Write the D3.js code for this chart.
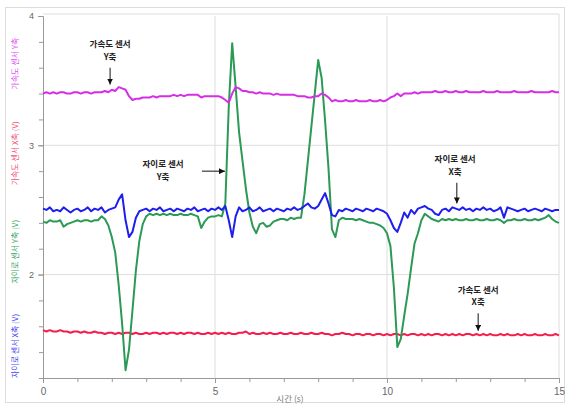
<!DOCTYPE html>
<html>
<head>
<meta charset="utf-8">
<script src="https://cdn.jsdelivr.net/npm/d3@7"></script>
<style>
  body { margin: 0; background: #fff; }
  svg { display: block; }
</style>
</head>
<body>
<svg id="chart"></svg>
<script>
var width = 568;
var height = 405;

// time axis: one sample every 0.1 s, 0 .. 15 s
var sampleCount = 151;

// accel sensor Y axis (magenta)
var accelY = [
  3.40, 3.41, 3.40, 3.41, 3.40, 3.41, 3.41, 3.40, 3.40, 3.41,
  3.41, 3.40, 3.41, 3.41, 3.40, 3.41, 3.41, 3.41, 3.42, 3.41,
  3.43, 3.42, 3.45, 3.44, 3.43, 3.38, 3.35, 3.36, 3.36, 3.37,
  3.37, 3.37, 3.38, 3.37, 3.38, 3.38, 3.38, 3.38, 3.39, 3.38,
  3.39, 3.38, 3.39, 3.39, 3.39, 3.39, 3.37, 3.38, 3.38, 3.38,
  3.38, 3.38, 3.37, 3.35, 3.33, 3.40, 3.45, 3.44, 3.42, 3.42,
  3.41, 3.41, 3.40, 3.41, 3.40, 3.40, 3.40, 3.39, 3.40, 3.39,
  3.39, 3.39, 3.39, 3.39, 3.38, 3.38, 3.38, 3.37, 3.37, 3.38,
  3.38, 3.40, 3.39, 3.37, 3.34, 3.35, 3.34, 3.34, 3.35, 3.34,
  3.34, 3.35, 3.34, 3.34, 3.34, 3.35, 3.34, 3.34, 3.35, 3.34,
  3.35, 3.37, 3.38, 3.40, 3.38, 3.40, 3.40, 3.40, 3.41, 3.40,
  3.41, 3.41, 3.41, 3.41, 3.42, 3.41, 3.41, 3.42, 3.41, 3.41,
  3.42, 3.41, 3.41, 3.42, 3.41, 3.41, 3.41, 3.41, 3.42, 3.41,
  3.41, 3.41, 3.42, 3.41, 3.41, 3.41, 3.41, 3.42, 3.41, 3.41,
  3.41, 3.41, 3.42, 3.41, 3.41, 3.41, 3.41, 3.41, 3.42, 3.41,
  3.41
];

// gyro sensor X axis (blue)
var gyroX = [
  2.51, 2.50, 2.52, 2.49, 2.50, 2.49, 2.52, 2.50, 2.48, 2.50,
  2.51, 2.49, 2.50, 2.52, 2.49, 2.51, 2.50, 2.52, 2.48, 2.50,
  2.51, 2.52, 2.58, 2.62, 2.42, 2.29, 2.33, 2.44, 2.49, 2.50,
  2.51, 2.49, 2.51, 2.50, 2.52, 2.49, 2.50, 2.51, 2.49, 2.51,
  2.50, 2.49, 2.51, 2.50, 2.52, 2.49, 2.50, 2.51, 2.49, 2.51,
  2.50, 2.52, 2.50, 2.53, 2.42, 2.29, 2.45, 2.52, 2.49, 2.50,
  2.52, 2.49, 2.50, 2.52, 2.49, 2.50, 2.51, 2.49, 2.51, 2.50,
  2.49, 2.51, 2.50, 2.52, 2.50, 2.51, 2.53, 2.55, 2.52, 2.51,
  2.53, 2.58, 2.63, 2.55, 2.46, 2.45, 2.50, 2.49, 2.51, 2.50,
  2.49, 2.51, 2.50, 2.49, 2.51, 2.50, 2.49, 2.51, 2.50, 2.49,
  2.47, 2.42, 2.36, 2.33, 2.40, 2.48, 2.44, 2.50, 2.47, 2.51,
  2.52, 2.53, 2.51, 2.50, 2.47, 2.46, 2.50, 2.51, 2.49, 2.52,
  2.51, 2.50, 2.52, 2.50, 2.51, 2.49, 2.51, 2.50, 2.52, 2.50,
  2.51, 2.49, 2.50, 2.52, 2.44, 2.52, 2.51, 2.50, 2.49, 2.50,
  2.51, 2.49, 2.50, 2.51, 2.50, 2.49, 2.51, 2.50, 2.49, 2.50,
  2.50
];

// gyro sensor Y axis (green)
var gyroY = [
  2.41, 2.40, 2.42, 2.41, 2.41, 2.42, 2.37, 2.39, 2.40, 2.41,
  2.42, 2.41, 2.42, 2.42, 2.41, 2.42, 2.42, 2.45, 2.43, 2.38,
  2.29, 2.17, 1.92, 1.62, 1.26, 1.42, 1.72, 2.03, 2.26, 2.39,
  2.45, 2.47, 2.46, 2.47, 2.46, 2.47, 2.46, 2.47, 2.46, 2.46,
  2.47, 2.46, 2.46, 2.47, 2.46, 2.45, 2.36, 2.41, 2.44, 2.45,
  2.45, 2.46, 2.45, 2.55, 3.30, 3.79, 3.45, 3.10, 2.88, 2.66,
  2.48, 2.37, 2.32, 2.39, 2.40, 2.37, 2.38, 2.41, 2.42, 2.43,
  2.43, 2.42, 2.44, 2.43, 2.44, 2.44, 2.62, 2.88, 3.14, 3.40,
  3.66, 3.52, 3.19, 2.82, 2.35, 2.29, 2.42, 2.44, 2.43, 2.43,
  2.43, 2.42, 2.43, 2.42, 2.41, 2.40, 2.40, 2.39, 2.38, 2.36,
  2.32, 2.22, 1.90, 1.44, 1.50, 1.68, 1.85, 2.05, 2.24, 2.32,
  2.42, 2.47, 2.45, 2.43, 2.42, 2.41, 2.43, 2.42, 2.43, 2.42,
  2.43, 2.42, 2.42, 2.43, 2.42, 2.42, 2.43, 2.42, 2.42, 2.43,
  2.42, 2.42, 2.43, 2.42, 2.40, 2.42, 2.42, 2.43, 2.42, 2.42,
  2.43, 2.42, 2.42, 2.43, 2.42, 2.43, 2.44, 2.46, 2.43, 2.41,
  2.40
];

// accel sensor X axis (red)
var accelX = [
  1.57, 1.56, 1.57, 1.56, 1.56, 1.57, 1.56, 1.56, 1.55, 1.56,
  1.56, 1.55, 1.56, 1.55, 1.55, 1.56, 1.55, 1.55, 1.54, 1.55,
  1.55, 1.54, 1.55, 1.54, 1.55, 1.55, 1.54, 1.55, 1.54, 1.54,
  1.55, 1.54, 1.55, 1.55, 1.54, 1.55, 1.54, 1.55, 1.55, 1.54,
  1.55, 1.54, 1.55, 1.55, 1.54, 1.55, 1.54, 1.54, 1.55, 1.54,
  1.55, 1.54, 1.55, 1.54, 1.55, 1.54, 1.54, 1.55, 1.55, 1.56,
  1.54, 1.55, 1.54, 1.54, 1.55, 1.54, 1.55, 1.54, 1.54, 1.55,
  1.54, 1.54, 1.55, 1.54, 1.54, 1.55, 1.54, 1.54, 1.55, 1.54,
  1.54, 1.55, 1.54, 1.54, 1.53, 1.54, 1.54, 1.55, 1.54, 1.54,
  1.53, 1.54, 1.54, 1.53, 1.54, 1.54, 1.53, 1.54, 1.54, 1.53,
  1.54, 1.53, 1.54, 1.54, 1.53, 1.54, 1.53, 1.54, 1.54, 1.53,
  1.54, 1.53, 1.54, 1.53, 1.54, 1.54, 1.53, 1.54, 1.53, 1.54,
  1.53, 1.54, 1.53, 1.54, 1.54, 1.53, 1.54, 1.53, 1.54, 1.53,
  1.54, 1.53, 1.53, 1.54, 1.53, 1.54, 1.53, 1.53, 1.54, 1.53,
  1.54, 1.53, 1.53, 1.54, 1.53, 1.53, 1.54, 1.53, 1.53, 1.54,
  1.53
];

var xTicks = [0, 5, 10, 15];
var yTicks = [2, 3, 4];
var xLabel = "시간 (s)";

var series = [
  { name: "accelX", values: accelX, color: "#f41e4c" },
  { name: "gyroY", values: gyroY, color: "#2b9a56" },
  { name: "gyroX", values: gyroX, color: "#1e1eee" },
  { name: "accelY", values: accelY, color: "#d62ee6" }
];

// y axis title pieces, bottom to top
var yLabels = [
  { text: "자이로 센서 X축 (V)", color: "#4848f0", at: 1.2 },
  { text: "자이로 센서 Y축 (V)", color: "#3aa466", at: 1.93 },
  { text: "가속도 센서 X축 (V)", color: "#f0547a", at: 2.69 },
  { text: "가속도 센서 Y축", color: "#e052ee", at: 3.43 }
];

// callouts: text anchor and arrow, in data units
var notes = [
  { lines: ["가속도 센서", "Y축"], tx: 1.95, ty: 3.76, ax1: 1.95, ay1: 3.60, ax2: 1.95, ay2: 3.47 },
  { lines: ["자이로 센서", "Y축"], tx: 3.49, ty: 2.83, ax1: 4.62, ay1: 2.80, ax2: 5.29, ay2: 2.80 },
  { lines: ["자이로 센서", "X축"], tx: 11.98, ty: 2.87, ax1: 12.03, ay1: 2.71, ax2: 12.03, ay2: 2.55 },
  { lines: ["가속도 센서", "X축"], tx: 12.65, ty: 1.86, ax1: 12.65, ay1: 1.70, ax2: 12.65, ay2: 1.565 }
];

var margin = { top: 16, right: 9, bottom: 27, left: 43 };
var innerW = width - margin.left - margin.right;
var innerH = height - margin.top - margin.bottom;

var x = d3.scaleLinear().domain([0, 15]).range([margin.left, margin.left + innerW]);
var y = d3.scaleLinear().domain([1.2, 4.0]).range([margin.top + innerH, margin.top]);

var svg = d3.select("#chart")
  .attr("width", width)
  .attr("height", height)
  .style("font-family", "'Noto Sans CJK KR', 'Noto Sans', sans-serif");

// outer frame
svg.append("rect")
  .attr("x", 5.5).attr("y", 7.5)
  .attr("width", 559).attr("height", 395)
  .attr("fill", "none")
  .attr("stroke", "#dcdcdc");

// grid
svg.append("g").selectAll("line")
  .data([5, 10])
  .enter().append("line")
  .attr("x1", function(d) { return x(d); })
  .attr("x2", function(d) { return x(d); })
  .attr("y1", y(4.0)).attr("y2", y(1.2))
  .attr("stroke", "#dedede");

svg.append("g").selectAll("line")
  .data([2, 3])
  .enter().append("line")
  .attr("x1", x(0)).attr("x2", x(15))
  .attr("y1", function(d) { return y(d); })
  .attr("y2", function(d) { return y(d); })
  .attr("stroke", "#dedede");

// plot box (top + right)
svg.append("path")
  .attr("d", "M" + x(0) + "," + (y(4.0) - 2) + "H" + x(15) + "V" + y(1.2))
  .attr("fill", "none")
  .attr("stroke", "#dedede");

// minor ticks
var xMinor = d3.axisBottom(x).tickValues(d3.range(0, 16, 1)).tickSize(4).tickFormat("");
var yMinor = d3.axisLeft(y).tickValues(d3.range(1.2, 4.01, 0.2)).tickSize(4).tickFormat("");

svg.append("g")
  .attr("transform", "translate(0," + y(1.2) + ")")
  .call(xMinor)
  .call(function(g) { g.selectAll("line,path").attr("stroke", "#999"); });

svg.append("g")
  .attr("transform", "translate(" + x(0) + ",0)")
  .call(yMinor)
  .call(function(g) { g.selectAll("line,path").attr("stroke", "#999"); });

// major ticks + labels
var xAxis = d3.axisBottom(x).tickValues(xTicks).tickSize(5).tickPadding(5).tickFormat(d3.format("d"));
var yAxis = d3.axisLeft(y).tickValues(yTicks).tickSize(5).tickPadding(4).tickFormat(d3.format("d"));

svg.append("g")
  .attr("transform", "translate(0," + y(1.2) + ")")
  .call(xAxis)
  .call(function(g) {
    g.select(".domain").remove();
    g.selectAll("line").attr("stroke", "#999");
    g.selectAll("text").attr("fill", "#666").style("font-size", "10px")
      .style("font-family", "'Liberation Sans', Arial, sans-serif");
  });

svg.append("g")
  .attr("transform", "translate(" + x(0) + ",0)")
  .call(yAxis)
  .call(function(g) {
    g.select(".domain").remove();
    g.selectAll("line").attr("stroke", "#999");
    g.selectAll("text").attr("fill", "#666").style("font-size", "9px")
      .style("font-family", "'Liberation Sans', Arial, sans-serif");
  });

// x axis title
svg.append("text")
  .attr("x", 290)
  .attr("y", 402)
  .attr("text-anchor", "middle")
  .attr("fill", "#777")
  .style("font-size", "8.5px")
  .text(xLabel);

// y axis title, colour per series
svg.append("g").selectAll("text")
  .data(yLabels)
  .enter().append("text")
  .attr("transform", function(d) { return "translate(18," + y(d.at) + ") rotate(-90)"; })
  .attr("fill", function(d) { return d.color; })
  .style("font-size", "8px")
  .text(function(d) { return d.text; });

// series lines
var line = d3.line()
  .x(function(d, i) { return x(i / 10); })
  .y(function(d) { return y(d); });

svg.append("g").selectAll("path")
  .data(series)
  .enter().append("path")
  .attr("d", function(d) { return line(d.values.slice(0, sampleCount)); })
  .attr("fill", "none")
  .attr("stroke", function(d) { return d.color; })
  .attr("stroke-width", 2)
  .attr("stroke-linejoin", "round");

// arrow marker
svg.append("defs").append("marker")
  .attr("id", "arrow")
  .attr("viewBox", "0 0 10 10")
  .attr("refX", 10).attr("refY", 5)
  .attr("markerWidth", 6).attr("markerHeight", 6)
  .attr("markerUnits", "userSpaceOnUse")
  .attr("orient", "auto")
  .append("path")
  .attr("d", "M0,0L10,5L0,10Z")
  .attr("fill", "#111");

var noteG = svg.append("g").selectAll("g")
  .data(notes)
  .enter().append("g");

noteG.append("line")
  .attr("x1", function(d) { return x(d.ax1); })
  .attr("y1", function(d) { return y(d.ay1); })
  .attr("x2", function(d) { return x(d.ax2); })
  .attr("y2", function(d) { return y(d.ay2); })
  .attr("stroke", "#111")
  .attr("stroke-width", 1)
  .attr("marker-end", "url(#arrow)");

noteG.each(function(d) {
  var g = d3.select(this);
  d.lines.forEach(function(t, i) {
    g.append("text")
      .attr("x", x(d.tx))
      .attr("y", y(d.ty) + i * 12.5)
      .attr("text-anchor", "middle")
      .attr("fill", "#222")
      .style("font-size", "8.5px")
      .style("font-weight", "bold")
      .text(t);
  });
});
</script>
</body>
</html>
